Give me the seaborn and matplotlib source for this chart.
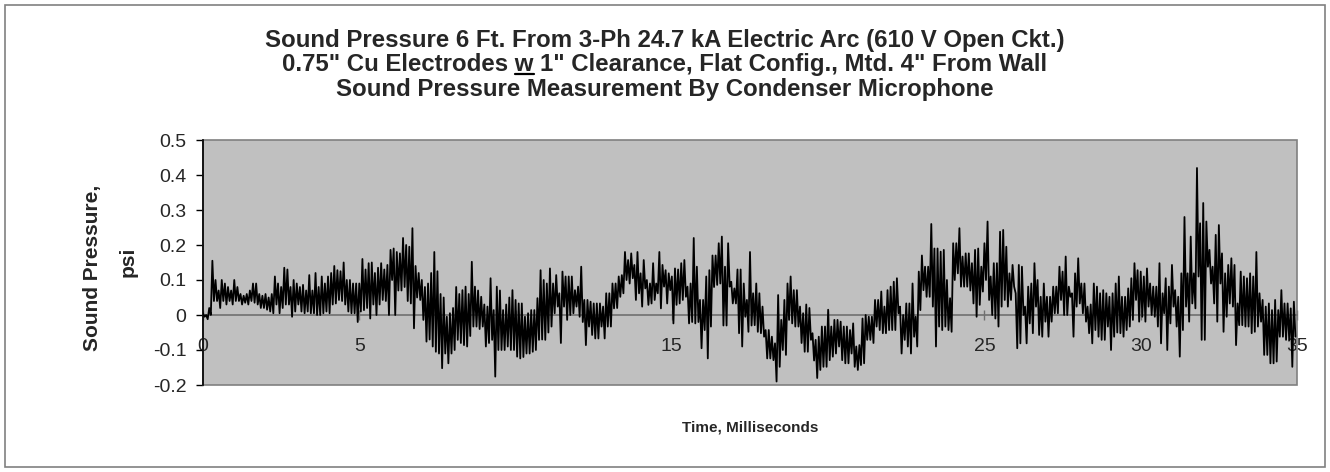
import numpy as np
import pandas as pd
import matplotlib
matplotlib.use("Agg")
import matplotlib.pyplot as plt
from matplotlib.patches import Rectangle
from matplotlib.lines import Line2D
import seaborn as sns

# Trace read off the original chart as an envelope: one high and one low
# reading (psi) for every 0.1 ms bin from 0 to 35 ms.
bin_ms = 0.1
upper = [
    0.005, 0.0, 0.02, 0.155, 0.10, 0.07, 0.10, 0.09, 0.08, 0.07,
    0.10, 0.08, 0.06, 0.055, 0.06, 0.07, 0.09, 0.09, 0.06, 0.055,
    0.06, 0.05, 0.06, 0.11, 0.09, 0.08, 0.135, 0.13, 0.08, 0.10,
    0.09, 0.08, 0.086, 0.07, 0.114, 0.07, 0.12, 0.08, 0.11, 0.09,
    0.11, 0.12, 0.14, 0.128, 0.125, 0.15, 0.10, 0.10, 0.09, 0.09,
    0.09, 0.16, 0.13, 0.148, 0.15, 0.12, 0.135, 0.148, 0.13, 0.143,
    0.186, 0.19, 0.18, 0.176, 0.22, 0.20, 0.195, 0.248, 0.14, 0.12,
    0.10, 0.08, 0.09, 0.12, 0.18, 0.125, 0.06, 0.05, -0.005, 0.005,
    0.02, 0.08, 0.06, 0.071, 0.081, 0.06, 0.152, 0.081, 0.07, 0.052,
    0.03, 0.024, 0.105, 0.014, 0.081, 0.07, 0.014, 0.03, 0.05, 0.071,
    0.043, 0.033, 0.033, -0.005, 0.005, 0.014, 0.014, 0.048, 0.128, 0.10,
    0.09, 0.133, 0.09, 0.114, 0.062, 0.124, 0.11, 0.11, 0.11, 0.071,
    0.081, 0.138, 0.043, 0.043, 0.038, 0.033, 0.033, 0.033, 0.024, 0.062,
    0.062, 0.09, 0.09, 0.11, 0.114, 0.18, 0.157, 0.176, 0.143, 0.18,
    0.119, 0.157, 0.10, 0.09, 0.148, 0.09, 0.18, 0.143, 0.128, 0.119,
    0.11, 0.133, 0.13, 0.148, 0.157, 0.081, 0.09, 0.22, 0.138, 0.043,
    0.043, 0.11, 0.128, 0.17, 0.17, 0.205, 0.224, 0.138, 0.205, 0.095,
    0.076, 0.13, 0.13, 0.09, 0.043, 0.18, 0.062, 0.09, 0.062, 0.024,
    -0.043, -0.043, -0.062, -0.081, 0.057, -0.014, 0.043, 0.09, 0.11, 0.071,
    0.071, 0.024, 0.005, 0.03, 0.02, -0.052, -0.071, -0.062, -0.033, -0.033,
    0.015, -0.033, -0.014, -0.014, -0.019, -0.033, -0.033, -0.043, -0.024, -0.09,
    -0.086, -0.01, 0.0, -0.005, -0.005, 0.043, 0.043, 0.067, 0.024, 0.071,
    0.081, 0.095, 0.105, 0.024, 0.0, 0.033, 0.033, 0.09, -0.005, 0.124,
    0.17, 0.138, 0.138, 0.26, 0.19, 0.19, 0.181, 0.186, 0.10, 0.048,
    0.205, 0.205, 0.248, 0.167, 0.176, 0.176, 0.148, 0.186, 0.19, 0.138,
    0.205, 0.267, 0.11, 0.148, 0.148, 0.238, 0.243, 0.195, 0.119, 0.143,
    0.062, 0.143, 0.138, 0.024, 0.081, 0.09, 0.148, 0.10, 0.052, 0.09,
    0.052, 0.052, 0.081, 0.081, 0.138, 0.124, 0.167, 0.081, 0.062, 0.119,
    0.162, 0.09, 0.09, 0.024, 0.03, 0.09, 0.081, 0.062, 0.071, 0.062,
    0.052, 0.062, 0.09, 0.11, 0.052, 0.052, 0.076, 0.105, 0.148, 0.128,
    0.124, 0.11, 0.133, 0.09, 0.081, 0.081, 0.148, 0.062, 0.105, 0.081,
    0.143, 0.071, 0.052, 0.119, 0.28, 0.119, 0.224, 0.119, 0.42, 0.262,
    0.32, 0.267, 0.186, 0.138, 0.229, 0.257, 0.176, 0.119, 0.143, 0.162,
    0.143, 0.033, 0.124, 0.11, 0.105, 0.119, 0.11, 0.18, 0.062, 0.043,
    0.024, 0.033, 0.014, 0.043, 0.014, 0.071, 0.033, 0.033, 0.019, 0.038,
]
lower = [
    -0.005, -0.012, 0.0, 0.04, 0.04, 0.02, 0.04, 0.03, 0.04, 0.03,
    0.04, 0.04, 0.03, 0.035, 0.03, 0.04, 0.035, 0.03, 0.02, 0.02,
    0.015, 0.01, 0.005, 0.03, 0.005, 0.02, 0.03, 0.03, -0.005, 0.01,
    0.03, 0.01, 0.005, 0.01, 0.005, 0.005, 0.0, 0.0, 0.005, 0.01,
    0.005, 0.03, 0.033, 0.043, 0.04, 0.03, 0.01, 0.005, 0.005, -0.02,
    0.01, 0.014, 0.02, -0.01, 0.03, 0.0, 0.03, 0.043, 0.04, 0.0,
    0.10, 0.0, 0.07, 0.07, 0.08, 0.04, 0.033, -0.038, 0.05, 0.043,
    -0.014, -0.076, -0.07, -0.09, -0.105, -0.11, -0.152, -0.11, -0.138, -0.11,
    -0.10, -0.071, -0.08, -0.086, -0.09, -0.06, -0.033, -0.033, -0.04, -0.033,
    -0.09, -0.08, -0.071, -0.176, -0.10, -0.10, -0.10, -0.09, -0.10, -0.10,
    -0.119, -0.124, -0.12, -0.11, -0.11, -0.105, -0.10, -0.071, -0.07, -0.071,
    -0.05, -0.033, 0.005, 0.024, -0.08, 0.024, -0.014, 0.0, 0.005, 0.024,
    -0.005, -0.02, -0.086, -0.033, -0.057, -0.067, -0.067, -0.033, -0.067, -0.033,
    -0.033, 0.019, 0.02, 0.052, 0.062, 0.10, 0.09, 0.105, 0.043, 0.062,
    0.024, 0.076, 0.029, 0.033, 0.043, 0.062, 0.019, 0.081, 0.033, 0.071,
    -0.024, 0.029, 0.033, 0.043, 0.052, -0.024, -0.02, -0.024, -0.02, -0.095,
    -0.043, -0.124, -0.033, 0.08, 0.086, 0.09, -0.03, -0.03, 0.081, 0.033,
    0.033, -0.052, -0.09, -0.005, -0.048, -0.03, -0.029, -0.048, -0.052, -0.062,
    -0.124, -0.124, -0.129, -0.19, -0.148, -0.10, -0.114, -0.014, -0.024, -0.033,
    -0.033, -0.08, -0.105, -0.105, -0.071, -0.13, -0.18, -0.157, -0.148, -0.148,
    -0.129, -0.119, -0.11, -0.09, -0.129, -0.138, -0.138, -0.11, -0.148, -0.157,
    -0.143, -0.138, -0.071, -0.071, -0.08, -0.033, -0.043, -0.052, -0.052, -0.043,
    -0.043, -0.043, 0.005, -0.11, -0.071, -0.09, -0.11, -0.062, -0.09, 0.014,
    0.071, 0.052, 0.052, 0.024, -0.09, -0.033, -0.043, -0.033, -0.043, -0.048,
    0.10, 0.119, 0.081, 0.081, 0.081, 0.07, 0.033, -0.005, 0.029, 0.067,
    0.10, 0.043, 0.0, -0.01, -0.033, 0.024, 0.043, 0.024, 0.043, 0.081,
    -0.095, -0.081, 0.0, -0.081, -0.024, -0.052, 0.024, -0.057, -0.062, -0.019,
    -0.062, -0.019, 0.005, 0.005, 0.043, 0.0, 0.0, 0.052, -0.062, 0.024,
    0.033, 0.005, -0.019, -0.052, -0.081, -0.043, -0.062, -0.071, -0.071, -0.033,
    -0.10, -0.062, -0.05, -0.052, -0.062, -0.043, -0.033, -0.014, 0.043, -0.019,
    -0.005, -0.019, 0.024, 0.0, -0.005, -0.033, -0.081, 0.005, -0.10, -0.024,
    0.024, -0.033, -0.119, -0.043, 0.024, -0.019, 0.033, 0.019, 0.11, -0.071,
    -0.071, 0.138, 0.09, 0.033, -0.019, 0.09, -0.048, -0.005, 0.033, 0.024,
    -0.086, -0.029, -0.029, -0.033, -0.033, -0.052, -0.048, -0.033, -0.019, -0.114,
    -0.114, -0.138, -0.138, -0.133, -0.062, -0.062, -0.071, -0.071, -0.148, -0.062,
]

x_ticks = [0, 5, 10, 15, 20, 25, 30, 35]
x_tick_labels = ["0", "5", "", "15", "", "25", "30", "35"]   # 10 and 20 are hidden under the trace
y_ticks = [-0.2, -0.1, 0, 0.1, 0.2, 0.3, 0.4, 0.5]
y_tick_labels = ["-0.2", "-0.1", "0", "0.1", "0.2", "0.3", "0.4", "0.5"]

title_lines = [
    'Sound Pressure 6 Ft. From 3-Ph 24.7 kA Electric Arc (610 V Open Ckt.)',
    '0.75" Cu Electrodes w 1" Clearance, Flat Config., Mtd. 4" From Wall',
    'Sound Pressure Measurement By Condenser Microphone',
]
underlined_prefix = '0.75" Cu Electrodes w'

# interleave highs and lows so the line zig-zags like the sampled signal
t_hi = np.arange(len(upper)) * bin_ms
t_lo = t_hi + bin_ms / 2
df = pd.DataFrame({
    "time": np.column_stack([t_hi, t_lo]).ravel(),
    "psi": np.column_stack([upper, lower]).ravel(),
})

sns.set_style("white")
plt.rcParams["font.family"] = ["Liberation Sans", "DejaVu Sans"]

W, H = 1330, 472
fig = plt.figure(figsize=(W / 100, H / 100), dpi=100)
ax = fig.add_axes([203 / W, 1 - 385 / H, (1297 - 203) / W, (385 - 140) / H])
ax.set_facecolor("#C0C0C0")

sns.lineplot(data=df, x="time", y="psi", estimator=None, sort=False,
             color="black", linewidth=1.3, ax=ax, zorder=3)

ax.set_xlim(0, 35)
ax.set_ylim(-0.2, 0.5)
ax.set_xticks(x_ticks)
ax.set_xticklabels(x_tick_labels)
ax.set_yticks(y_ticks)
ax.set_yticklabels(y_tick_labels)
ax.set_xlabel("")
ax.set_ylabel("")

# x axis sits on the zero line, plot area framed in grey
for s in ["top", "right"]:
    ax.spines[s].set_visible(False)
ax.spines["bottom"].set_position(("data", 0))
ax.spines["bottom"].set_color("#707070")
ax.spines["bottom"].set_linewidth(1.2)
ax.spines["bottom"].set_zorder(2)
ax.spines["left"].set_color("black")
ax.spines["left"].set_linewidth(1.2)
ax.add_patch(Rectangle((0, 0), 1, 1, transform=ax.transAxes, fill=False,
                       edgecolor="#808080", linewidth=1.2, zorder=1, clip_on=False))

ax.tick_params(axis="y", direction="out", length=5, width=1, color="black",
               pad=7, labelsize=14, left=True)
ax.tick_params(axis="x", direction="inout", length=7, width=1, color="#707070",
               pad=13, labelsize=14, bottom=True)

# text
fig.text(750 / W, 1 - 428 / H, "Time, Milliseconds", ha="center", va="center",
         fontsize=11, fontweight="bold")
fig.text(93 / W, 1 - 268 / H, "Sound Pressure,", rotation=90, ha="center",
         va="center", fontsize=15, fontweight="bold")
fig.text(128 / W, 1 - 262 / H, "psi", rotation=90, ha="center",
         va="center", fontsize=15, fontweight="bold")

baselines = [47, 71, 96]
title_kw = dict(fontsize=17.3, fontweight="bold")
texts = []
for line, b in zip(title_lines, baselines):
    texts.append(fig.text(0.5, 1 - b / H, line, ha="center", va="baseline", **title_kw))

# underline the "w" on the second title line
fig.canvas.draw()
r = fig.canvas.get_renderer()
bb = texts[1].get_window_extent(r)
probe = fig.text(0, 0, underlined_prefix, alpha=0, **title_kw)
w_pre = probe.get_window_extent(r).width
probe.set_text("w")
w_w = probe.get_window_extent(r).width
probe.remove()
x1 = (bb.x0 + w_pre) / W
x0 = x1 - w_w / W
uy = 1 - (baselines[1] + 3) / H
fig.add_artist(Line2D([x0, x1], [uy, uy], color="black", linewidth=1.6))

# chart frame
fig.add_artist(Rectangle((5 / W, 5 / H), (W - 10) / W, (H - 10) / H,
                         transform=fig.transFigure, fill=False,
                         edgecolor="#808080", linewidth=1.2))

fig.savefig("out.png", dpi=100)
